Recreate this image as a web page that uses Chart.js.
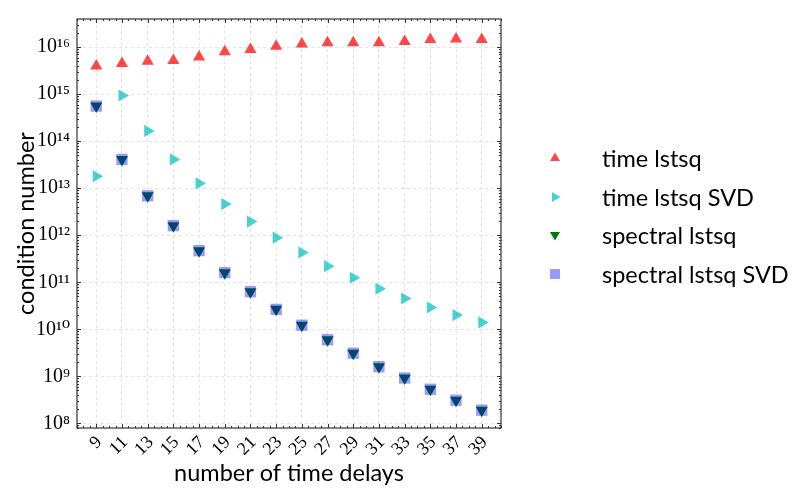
<!DOCTYPE html>
<html>
<head>
<meta charset="utf-8">
<script src="https://cdn.jsdelivr.net/npm/chart.js@4.4.1/dist/chart.umd.min.js"></script>
<style>
  html, body { margin: 0; padding: 0; background: #fff; }
  .wrap { position: relative; width: 794px; height: 491px; }
  .legend { position: absolute; left: 545px; top: 139px; font-family: Lato, sans-serif; font-size: 23.5px; color: #000; }
  .legend .row { position: absolute; left: 0; height: 38px; display: flex; align-items: center; white-space: nowrap; }
  .legend svg { width: 20px; height: 20px; margin-right: 37px; }
</style>
</head>
<body>
<div class="wrap">
  <canvas id="condChart" width="794" height="491"></canvas>
  <div class="legend" id="legend"></div>
</div>
<script>
const delays = [9, 11, 13, 15, 17, 19, 21, 23, 25, 27, 29, 31, 33, 35, 37, 39];
const timeLstsq = [4.0e15, 4.5e15, 5.0e15, 5.2e15, 6.2e15, 8.0e15, 8.9e15, 1.05e16,
  1.17e16, 1.25e16, 1.25e16, 1.25e16, 1.33e16, 1.46e16, 1.5e16, 1.46e16];
const timeLstsqSvd = [1.8e13, 9.4e14, 1.66e14, 4.1e13, 1.27e13, 4.6e12, 1.95e12, 8.9e11,
  4.3e11, 2.2e11, 1.25e11, 7.3e10, 4.5e10, 2.9e10, 2.0e10, 1.4e10];
const spectralLstsq = [5.6e14, 4.1e13, 6.9e12, 1.6e12, 4.7e11, 1.6e11, 6.3e10, 2.65e10,
  1.22e10, 6.0e9, 3.1e9, 1.6e9, 9.2e8, 5.3e8, 3.1e8, 1.9e8];
const spectralLstsqSvd = [5.6e14, 4.1e13, 6.9e12, 1.6e12, 4.7e11, 1.6e11, 6.3e10, 2.65e10,
  1.22e10, 6.0e9, 3.1e9, 1.6e9, 9.2e8, 5.3e8, 3.1e8, 1.9e8];
const yTicks = [1e8, 1e9, 1e10, 1e11, 1e12, 1e13, 1e14, 1e15, 1e16];

const SUP = { '0': '⁰', '1': '¹', '2': '²', '3': '³', '4': '⁴', '5': '⁵', '6': '⁶', '7': '⁷', '8': '⁸', '9': '⁹' };
const sup = n => String(n).split('').map(c => SUP[c]).join('');

const toPoints = ys => ys.map((y, i) => ({ x: delays[i], y }));

const series = [
  { label: 'time lstsq', data: timeLstsq, color: 'rgba(255,0,0,0.72)', style: 'triangle', rotation: 0, radius: 7 },
  { label: 'time lstsq SVD', data: timeLstsqSvd, color: 'rgba(0,191,191,0.72)', style: 'triangle', rotation: 90, radius: 7 },
  { label: 'spectral lstsq', data: spectralLstsq, color: 'rgb(0,120,0)', style: 'triangle', rotation: 180, radius: 7 },
  { label: 'spectral lstsq SVD', data: spectralLstsqSvd, color: 'rgba(0,0,255,0.4)', style: 'rect', rotation: 0, radius: 8, order: 0 },
];

const axisFrame = {
  id: 'axisFrame',
  afterDraw(chart) {
    const { ctx, chartArea: { left, right, top, bottom }, scales: { x, y } } = chart;
    ctx.save();
    ctx.strokeStyle = '#333';
    ctx.lineWidth = 1;
    ctx.beginPath();
    const vTick = (px, len) => {
      ctx.moveTo(px, bottom); ctx.lineTo(px, bottom - len);
      ctx.moveTo(px, top); ctx.lineTo(px, top + len);
    };
    const hTick = (py, len) => {
      ctx.moveTo(left, py); ctx.lineTo(left + len, py);
      ctx.moveTo(right, py); ctx.lineTo(right - len, py);
    };
    for (let v = 7.5; v <= 40.5; v += 0.5) {
      const px = Math.round(x.getPixelForValue(v)) + 0.5;
      vTick(px, delays.includes(v) ? 4 : 2);
    }
    for (let d = 7; d <= 16; d++) {
      for (let m = 1; m <= 9; m++) {
        const v = m * Math.pow(10, d);
        if (v < y.min || v > y.max) continue;
        const py = Math.round(y.getPixelForValue(v)) + 0.5;
        hTick(py, m === 1 ? 4 : 2);
      }
    }
    ctx.stroke();
    ctx.lineWidth = 1.2;
    ctx.strokeRect(left, top, right - left, bottom - top);
    ctx.restore();
  }
};

new Chart(document.getElementById('condChart').getContext('2d'), {
  type: 'scatter',
  data: {
    datasets: series.map(s => ({
      label: s.label,
      data: toPoints(s.data),
      backgroundColor: s.color,
      borderWidth: 0,
      pointStyle: s.style,
      rotation: s.rotation,
      pointRadius: s.radius,
      pointHoverRadius: s.radius,
      order: s.order ?? 1,
    })),
  },
  options: {
    responsive: false,
    animation: false,
    layout: { padding: { left: 5, right: 293, top: 5, bottom: 0 } },
    plugins: {
      legend: { display: false },
      tooltip: { enabled: false },
    },
    scales: {
      x: {
        type: 'linear',
        min: 7.5,
        max: 40.5,
        afterBuildTicks: scale => { scale.ticks = delays.map(value => ({ value })); },
        afterFit: scale => { scale.height = 63; },
        ticks: {
          autoSkip: false,
          minRotation: 45,
          maxRotation: 45,
          padding: 4,
          labelOffset: 3,
          color: '#000',
          font: { family: "'Liberation Serif', 'DejaVu Serif', serif", size: 18 },
        },
        grid: { color: '#dcdcdc', lineWidth: 0.8, drawTicks: false, borderDash: [3, 3], dash: [3, 3] },
        border: { display: false, dash: [3, 3] },
        title: {
          display: true,
          text: 'number of time delays',
          color: '#000',
          font: { family: 'Lato, sans-serif', size: 23.5 },
          padding: { top: 0, bottom: 3 },
        },
      },
      y: {
        type: 'logarithmic',
        min: 7.94e7,
        max: 3.98e16,
        afterBuildTicks: scale => { scale.ticks = yTicks.map(value => ({ value })); },
        afterFit: scale => { scale.width = 72; },
        ticks: {
          padding: 7,
          color: '#000',
          font: { family: "'Liberation Serif', 'DejaVu Serif', serif", size: 20 },
          callback: value => '10' + sup(Math.round(Math.log10(value))),
        },
        grid: { color: '#dcdcdc', lineWidth: 0.8, drawTicks: false, borderDash: [3, 3], dash: [3, 3] },
        border: { display: false, dash: [3, 3] },
        title: {
          display: true,
          text: 'condition number',
          color: '#000',
          font: { family: 'Lato, sans-serif', size: 23.5 },
          padding: { top: 7, bottom: 0 },
        },
      },
    },
  },
  plugins: [axisFrame],
});

const legendMarker = s => {
  if (s.style === 'rect') {
    return '<svg viewBox="-10 -10 20 20"><rect x="-5" y="-5" width="10" height="10" fill="' + s.color + '"/></svg>';
  }
  return '<svg viewBox="-10 -10 20 20"><polygon points="0,-5.5 5,3 -5,3" fill="' + s.color +
    '" transform="rotate(' + s.rotation + ')"/></svg>';
};

const legend = document.getElementById('legend');
series.forEach((s, i) => {
  const row = document.createElement('div');
  row.className = 'row';
  row.style.top = (i * 38.5) + 'px';
  row.innerHTML = legendMarker(s) + '<span>' + s.label + '</span>';
  legend.appendChild(row);
});
</script>
</body>
</html>
